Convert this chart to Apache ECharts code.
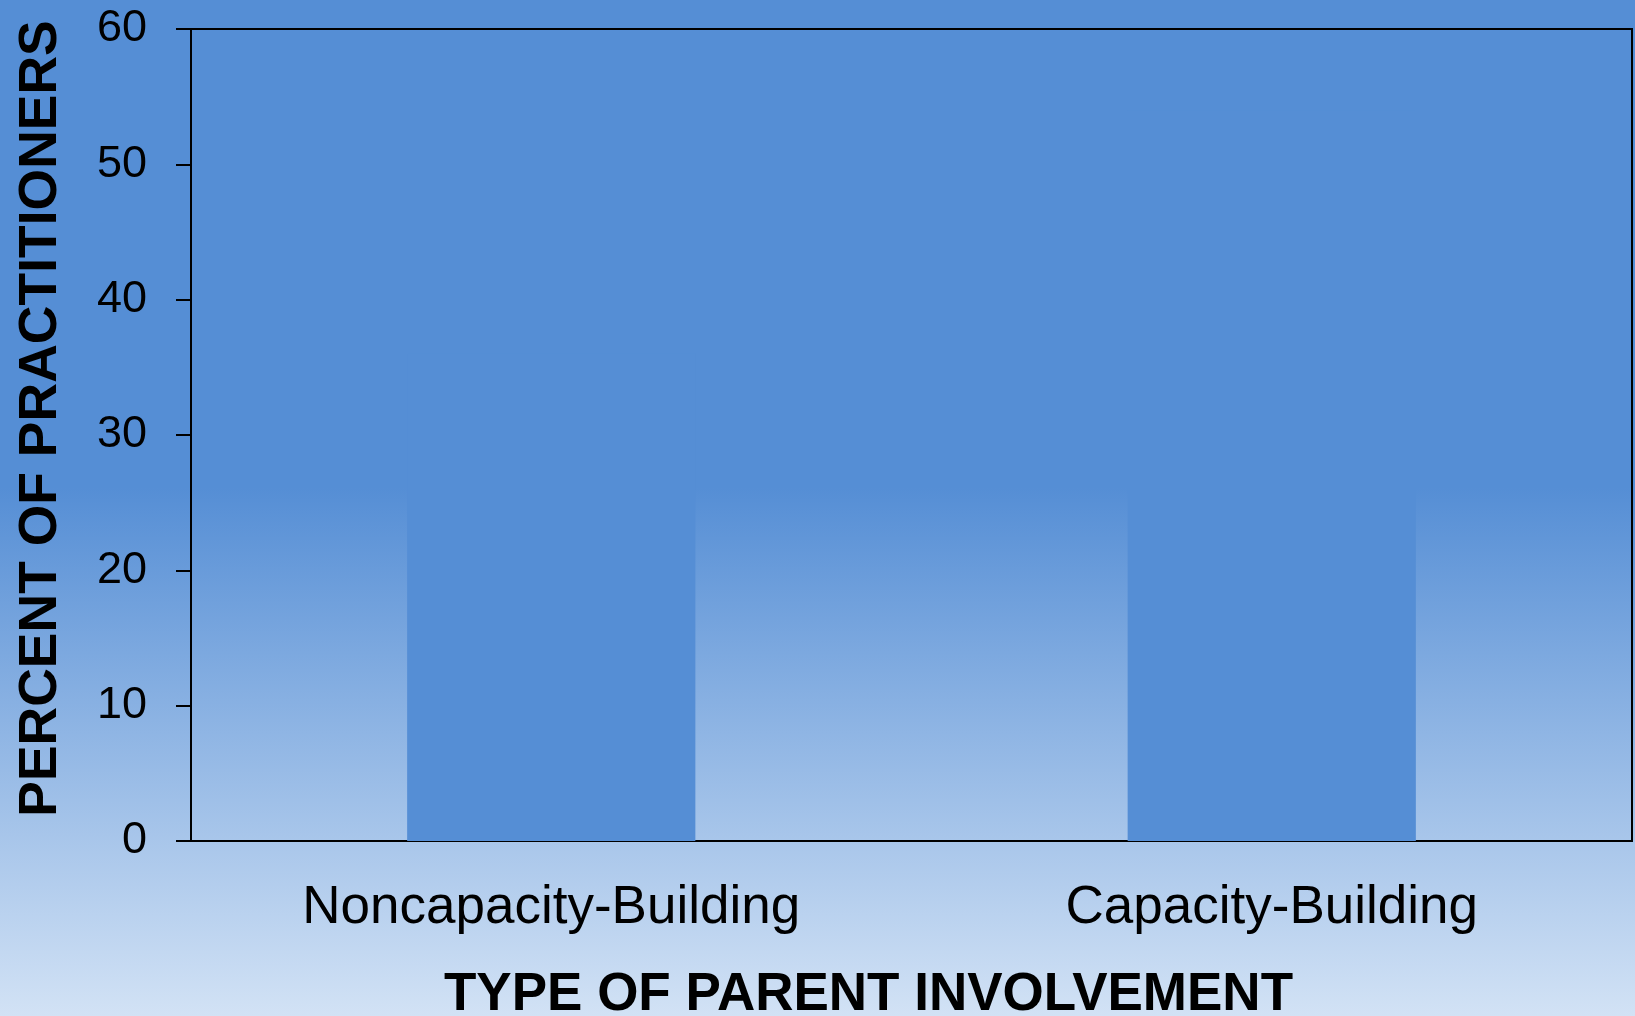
<!DOCTYPE html>
<html>
<head>
<meta charset="utf-8">
<script src="https://cdn.jsdelivr.net/npm/echarts@6/dist/echarts.min.js"></script>
<style>
  html, body { margin: 0; padding: 0; }
  #chart-container {
    width: 1635px;
    height: 1016px;
    background: linear-gradient(to bottom, #558ed5 0%, #558ed5 48%, #d2e2f5 100%);
  }
</style>
</head>
<body>
<div id="chart-container"></div>
<script>
// bar tops blend into the background, so heights are a best guess
const categories = ['Noncapacity-Building', 'Capacity-Building'];
const percentValues = [36, 54];
const yTicks = { min: 0, max: 60, interval: 10 };

const dom = document.getElementById('chart-container');
const myChart = echarts.init(dom, null, { renderer: 'canvas' });

const font = 'Liberation Sans, Arial, sans-serif';

const option = {
  backgroundColor: 'transparent',
  animation: false,
  grid: {
    left: 191,
    right: 3,
    top: 29,
    bottom: 175,
    outerBoundsMode: 'none',
    show: true,
    borderColor: '#000',
    borderWidth: 2,
  },
  xAxis: {
    type: 'category',
    data: categories,
    name: 'TYPE OF PARENT INVOLVEMENT',
    nameLocation: 'middle',
    nameGap: 128,
    nameTextStyle: {
      color: '#000',
      fontFamily: font,
      fontWeight: 'bold',
      fontSize: 53,
      padding: [0, 86, 0, 0],
    },
    axisLine: { lineStyle: { color: '#000', width: 2 } },
    axisTick: { length: 16, lineStyle: { color: '#000', width: 2 } },
    axisLabel: { color: '#000', fontFamily: font, fontSize: 53, margin: 41 },
  },
  yAxis: {
    type: 'value',
    min: yTicks.min,
    max: yTicks.max,
    interval: yTicks.interval,
    name: 'PERCENT OF PRACTITIONERS',
    nameLocation: 'middle',
    nameGap: 123,
    nameTextStyle: {
      color: '#000',
      fontFamily: font,
      fontWeight: 'bold',
      fontSize: 53.5,
      padding: [0, 0, 0, 33],
    },
    splitLine: { show: false },
    axisLine: { show: true, lineStyle: { color: '#000', width: 2 } },
    axisTick: { show: true, length: 15, lineStyle: { color: '#000', width: 2 } },
    axisLabel: { color: '#000', fontFamily: font, fontSize: 45, margin: 44 },
  },
  series: [
    {
      type: 'bar',
      data: percentValues,
      barWidth: '40%',
      itemStyle: { color: '#558ed5' },
    },
  ],
};

myChart.setOption(option);
window.addEventListener('resize', myChart.resize);
</script>
</body>
</html>
